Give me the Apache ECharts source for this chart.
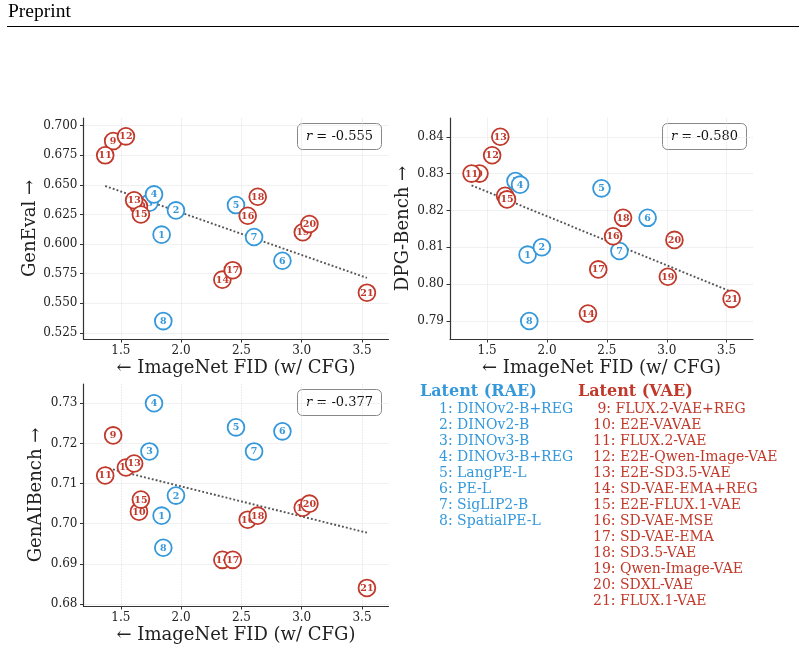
<!DOCTYPE html>
<html lang="en">
<head>
    <meta charset="UTF-8">
    <title>FID vs benchmarks</title>
    <script src="https://cdn.jsdelivr.net/npm/echarts@6/dist/echarts.min.js"></script>
    <style>
        html, body { margin: 0; padding: 0; background: #fff; }
        #main { width: 804px; height: 651px; }
    </style>
</head>
<body>
    <div id="main"></div>
</body>
</html>
<script type="text/javascript">
    // 数据：1-8 为 RAE，9-21 为 VAE
    var fid     = [1.838, 1.957, 1.737, 1.775, 2.455, 2.840, 2.605, 1.852, 1.436, 1.650, 1.370,
                   1.542, 1.610, 2.342, 1.666, 2.552, 2.428, 2.635, 3.009, 3.064, 3.541];
    var geneval = [0.608, 0.6285, 0.635, 0.642, 0.633, 0.586, 0.606, 0.535, 0.687, 0.632, 0.675,
                   0.691, 0.637, 0.570, 0.625, 0.624, 0.578, 0.640, 0.610, 0.617, 0.559];
    var dpg     = [0.808, 0.810, 0.828, 0.827, 0.826, 0.818, 0.809, 0.790, 0.830, 0.824, 0.830,
                   0.835, 0.840, 0.792, 0.823, 0.813, 0.804, 0.818, 0.802, 0.812, 0.796];
    var genai   = [0.702, 0.707, 0.718, 0.730, 0.724, 0.723, 0.718, 0.694, 0.722, 0.703, 0.712,
                   0.714, 0.715, 0.691, 0.706, 0.701, 0.691, 0.702, 0.704, 0.705, 0.684];
    var rValues = ['-0.555', '-0.580', '-0.377'];

    var raeNames = ['DINOv2-B+REG', 'DINOv2-B', 'DINOv3-B', 'DINOv3-B+REG',
                    'LangPE-L', 'PE-L', 'SigLIP2-B', 'SpatialPE-L'];
    var vaeNames = ['FLUX.2-VAE+REG', 'E2E-VAVAE', 'FLUX.2-VAE', 'E2E-Qwen-Image-VAE',
                    'E2E-SD3.5-VAE', 'SD-VAE-EMA+REG', 'E2E-FLUX.1-VAE', 'SD-VAE-MSE',
                    'SD-VAE-EMA', 'SD3.5-VAE', 'Qwen-Image-VAE', 'SDXL-VAE', 'FLUX.1-VAE'];

    var xTicks       = [1.5, 2.0, 2.5, 3.0, 3.5];
    var genevalTicks = [0.525, 0.550, 0.575, 0.600, 0.625, 0.650, 0.675, 0.700];
    var dpgTicks     = [0.79, 0.80, 0.81, 0.82, 0.83, 0.84];
    var genaiTicks   = [0.68, 0.69, 0.70, 0.71, 0.72, 0.73];

    var BLUE = '#3498db';
    var RED = '#c0392b';
    var FONT = '"DejaVu Serif", serif';

    var myChart = echarts.init(document.getElementById('main'));

    // 最小二乘拟合的虚线
    function fitLine(xs, ys) {
        var n = xs.length, sx = 0, sy = 0, sxx = 0, sxy = 0;
        for (var i = 0; i < n; i++) {
            sx += xs[i]; sy += ys[i]; sxx += xs[i] * xs[i]; sxy += xs[i] * ys[i];
        }
        var b = (n * sxy - sx * sy) / (n * sxx - sx * sx);
        var a = (sy - b * sx) / n;
        var x0 = Math.min.apply(null, xs), x1 = Math.max.apply(null, xs);
        return [[x0, a + b * x0], [x1, a + b * x1]];
    }

    var panels = [
        { ys: geneval, ticks: genevalTicks, dec: 3, name: 'GenEval →', min: 0.5199, max: 0.7065,
          grid: { left: 83.5, top: 118, width: 305, height: 221 }, nameGap: 43, box: [297, 123] },
        { ys: dpg, ticks: dpgTicks, dec: 2, name: 'DPG-Bench →', min: 0.7851, max: 0.8451,
          grid: { left: 450, top: 118, width: 303, height: 221 }, nameGap: 38, box: [662, 123] },
        { ys: genai, ticks: genaiTicks, dec: 2, name: 'GenAIBench →', min: 0.6795, max: 0.7348,
          grid: { left: 83.5, top: 384, width: 305, height: 222 }, nameGap: 38, box: [297, 389] }
    ];

    var grids = [], xAxes = [], yAxes = [], series = [], graphics = [];

    panels.forEach(function (p, k) {
        grids.push(p.grid);
        xAxes.push({
            gridIndex: k, type: 'value', min: 1.19, max: 3.72,
            name: '← ImageNet FID (w/ CFG)', nameLocation: 'middle', nameGap: 20,
            nameTextStyle: { fontFamily: FONT, fontSize: 18, color: '#222' },
            axisLine: { lineStyle: { color: '#333', width: 1.2 } },
            axisTick: { length: 3.5, lineStyle: { color: '#333' }, customValues: xTicks },
            axisLabel: { customValues: xTicks, margin: 6, fontFamily: FONT, fontSize: 12, color: '#222',
                         formatter: function (v) { return v.toFixed(1); } },
            splitLine: { show: true, lineStyle: { color: '#dcdcdc', type: 'dotted', width: 0.8 } }
        });
        yAxes.push({
            gridIndex: k, type: 'value', min: p.min, max: p.max,
            name: p.name, nameLocation: 'middle', nameRotate: 90, nameGap: p.nameGap,
            nameTextStyle: { fontFamily: FONT, fontSize: 18, color: '#222' },
            axisLine: { show: true, lineStyle: { color: '#333', width: 1.2 } },
            axisTick: { show: true, length: 3.5, lineStyle: { color: '#333' }, customValues: p.ticks },
            axisLabel: { customValues: p.ticks, margin: 6, fontFamily: FONT, fontSize: 12, color: '#222',
                         formatter: (function (d) { return function (v) { return v.toFixed(d); }; })(p.dec) },
            splitLine: { show: true, lineStyle: { color: '#dcdcdc', type: 'dotted', width: 0.8 } }
        });

        series.push({
            type: 'line', xAxisIndex: k, yAxisIndex: k, z: 1,
            data: fitLine(fid, p.ys), symbol: 'none', silent: true,
            lineStyle: { color: '#555', width: 1.9, type: [1.9, 2.1] }
        });

        var pts = fid.map(function (x, i) { return [x, p.ys[i], i + 1]; });
        series.push({
            type: 'custom', xAxisIndex: k, yAxisIndex: k, z: 3, clip: false,
            data: pts,
            renderItem: function (params, api) {
                var c = api.coord([api.value(0), api.value(1)]);
                var id = api.value(2);
                var col = id <= 8 ? BLUE : RED;
                return {
                    type: 'group',
                    children: [
                        { type: 'circle', shape: { cx: c[0], cy: c[1], r: 8.4 },
                          style: { fill: '#fff', stroke: col, lineWidth: 1.8 } },
                        { type: 'text', x: c[0], y: c[1] + 0.5,
                          style: { text: String(id), fill: col, font: 'bold 9.5px ' + FONT,
                                   align: 'center', verticalAlign: 'middle' } }
                    ]
                };
            }
        });

        // r 值标注框
        graphics.push({
            type: 'group', left: p.box[0], top: p.box[1], z: 10,
            children: [
                { type: 'rect', shape: { x: 0, y: 0, width: 84, height: 26, r: 5 },
                  style: { fill: '#fff', stroke: '#888', lineWidth: 1 } },
                { type: 'text', x: 42, y: 13,
                  style: { text: '{i|r} = ' + rValues[k], align: 'center', verticalAlign: 'middle',
                           font: '13px ' + FONT, fill: '#111',
                           rich: { i: { fontStyle: 'italic', fontFamily: FONT, fontSize: 13, fill: '#111' } } } }
            ]
        });
    });

    // 顶部页眉
    graphics.push({ type: 'text', x: 8, y: 2,
        style: { text: 'Preprint', font: '19.5px "Liberation Serif", serif', fill: '#000' } });
    graphics.push({ type: 'line', shape: { x1: 7, y1: 26.5, x2: 799, y2: 26.5 },
        style: { stroke: '#000', lineWidth: 1 } });

    // 图例文字
    graphics.push({ type: 'text', left: 420, top: 384,
        style: { text: 'Latent (RAE)', font: 'bold 16px ' + FONT, fill: BLUE } });
    graphics.push({ type: 'text', left: 578, top: 384,
        style: { text: 'Latent (VAE)', font: 'bold 16px ' + FONT, fill: RED } });
    graphics.push({ type: 'text', left: 439, top: 401,
        style: { text: raeNames.map(function (n, i) { return (i + 1) + ': ' + n; }).join('\n'),
                 font: '14px ' + FONT, fill: BLUE, lineHeight: 16 } });
    graphics.push({ type: 'text', left: 593, top: 401,
        style: { text: vaeNames.map(function (n, i) { var id = i + 9; return (id < 10 ? ' ' : '') + id + ': ' + n; }).join('\n'),
                 font: '14px ' + FONT, fill: RED, lineHeight: 16 } });

    var option = {
        backgroundColor: '#fff',
        animation: false,
        grid: grids,
        xAxis: xAxes,
        yAxis: yAxes,
        series: series,
        graphic: graphics
    };
    myChart.setOption(option);
</script>
